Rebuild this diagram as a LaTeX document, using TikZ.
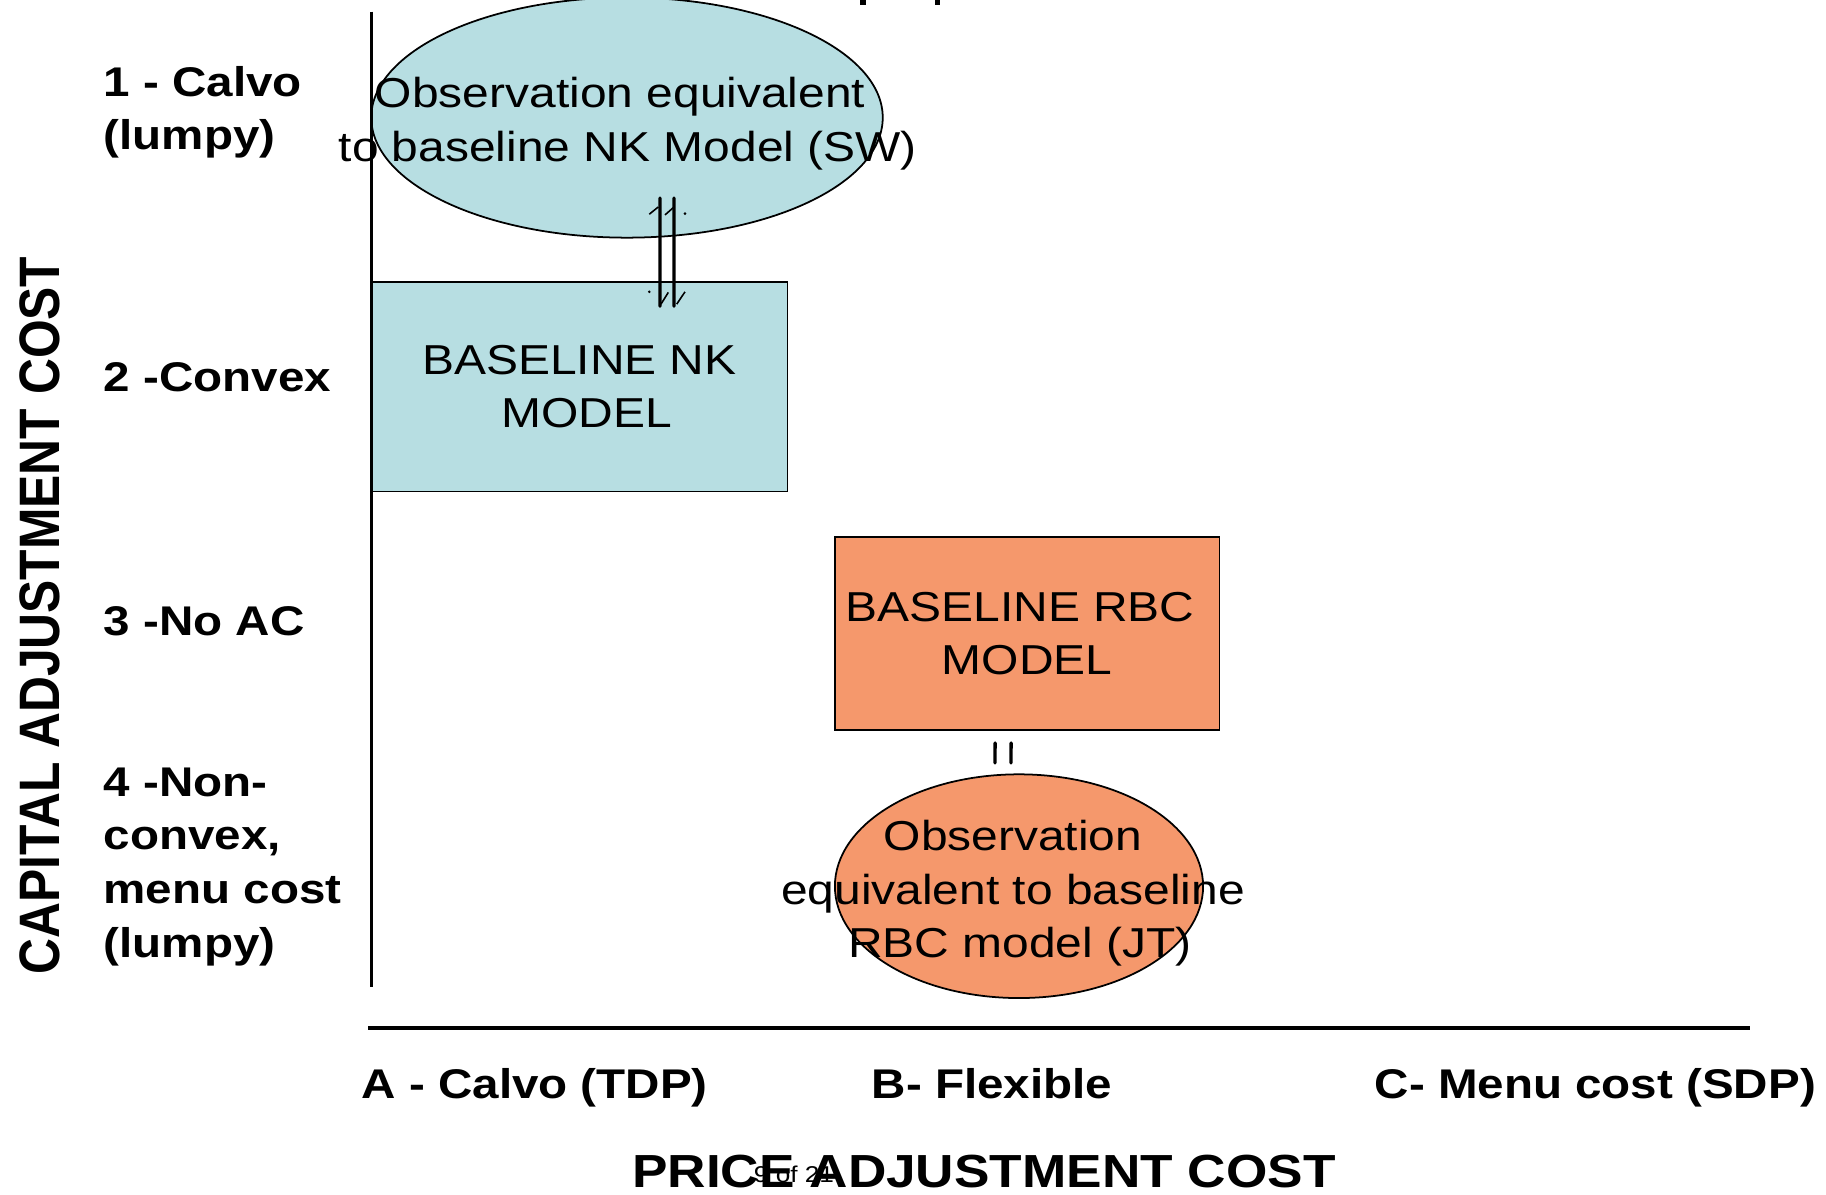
\documentclass[tikz,border=0pt]{standalone}
\usepackage{fontspec}
\setmainfont{Liberation Sans}[FakeStretch=1.146]
\newfontfamily\uprightsans{Liberation Sans}
\usetikzlibrary{calc,shapes.geometric}

\definecolor{nkblue}{HTML}{B7DEE2}
\definecolor{rbcorange}{HTML}{F5986C}

\newcommand{\fsz}[2]{\fontsize{#1}{#2}\selectfont}

\begin{document}
\begin{tikzpicture}[x=0.01cm,y=-0.01cm,
  rowlabel/.style={font=\fsz{11.8pt}{15.25pt}\bfseries, align=left, inner sep=0pt},
  collabel/.style={font=\fsz{11.8pt}{15.25pt}\bfseries, inner sep=0pt, anchor=base west},
  bodytext/.style={font=\fsz{11.9pt}{15.25pt}, align=center, inner sep=0pt},
  modelbox/.style={draw=black, line width=0.45pt, inner sep=0pt, font=\fsz{11.9pt}{15.25pt}, align=center},
  obsellipse/.style={ellipse, draw=black, line width=0.5pt, inner sep=0pt},
  eqbar/.style={line width=0.95pt, line cap=round},
  eqtick/.style={line width=0.45pt},
]
\useasboundingbox (0,0) rectangle (1826,1195);

% descenders of the clipped heading line
\fill (860,0) rectangle (865.5,5.5);
\fill (935,0) rectangle (940,5.5);

% axes
\coordinate (vtop) at (371.5,11.6);
\coordinate (vbot) at (371.5,987.5);
\coordinate (hleft) at (368,1028);
\coordinate (hright) at (1750,1028);

% NK column
\node[obsellipse, fill=nkblue, minimum width=5.112cm, minimum height=2.40cm] (nkobs) at (627,117.6) {};
\node[bodytext] (nkobstext) at (624,123.7) {Observation equivalent\kern2.2pt\\\kern2.2pt to baseline NK Model (SW)};
\node[modelbox, fill=nkblue, minimum width=4.157cm, minimum height=2.096cm] (nkbox) at (579.4,386.6) {BASELINE NK\\\kern4pt MODEL};

% RBC column
\node[modelbox, fill=rbcorange, minimum width=3.842cm, minimum height=1.933cm] (rbcbox) at (1027.1,633.5) {BASELINE RBC\kern4pt\\MODEL};
\node[obsellipse, fill=rbcorange, minimum width=3.68cm, minimum height=2.236cm] (rbcobs) at (1019,886.2) {};
\node[bodytext] (rbcobstext) at (1013,893.5) {Observation\\equivalent to baseline\\\kern4pt RBC model (JT)};

\draw[line width=0.7pt] (vtop) -- (vbot);
\draw[line width=1pt] (hleft) -- (hright);

% equivalence sign between the NK ellipse and the NK box
\coordinate (b1t) at ($(nkobs.south)+(33,-40.6)$);
\coordinate (b2t) at ($(nkobs.south)+(47,-40.6)$);
\coordinate (b1b) at ($(nkbox.north)+(80.6,25.2)$);
\coordinate (b2b) at ($(nkbox.north)+(94.6,25.2)$);
\draw[eqbar] (b1t) -- (b1b);
\draw[eqbar] (b2t) -- (b2b);
\draw[eqtick] ($(b1t)+(-10.7,16.3)$) -- ($(b1t)+(-1.7,9)$);
\draw[eqtick] ($(b2t)+(-9,17)$) -- ($(b2t)+(-0.7,9.7)$);
\fill ($(b2t)+(11,15.7)$) circle[radius=0.4pt];
\draw[eqtick] ($(b1b)+(1,-2)$) -- ($(b1b)+(8.3,-13.7)$);
\draw[eqtick] ($(b2b)+(2.7,-2)$) -- ($(b2b)+(11,-14.3)$);
\fill ($(b1b)+(-10.7,-14.3)$) circle[radius=0.4pt];

% equivalence sign between the RBC box and the RBC ellipse
\draw[eqbar] ($(rbcbox.south)+(-32,12)$) -- ($(rbcobs.north)+(-24,-10.4)$);
\draw[eqbar] ($(rbcbox.south)+(-16,12)$) -- ($(rbcobs.north)+(-8,-10.4)$);

% row labels
\node[rowlabel, anchor=north west] (row1) at (103,65.5) {1 - Calvo\\(lumpy)};
\node[rowlabel, anchor=base west] (row2) at (103,392) {2 -Convex};
\node[rowlabel, anchor=base west] (row3) at (103,636) {3 -No AC};
\node[rowlabel, anchor=north west] (row4) at (103,767) {4 -Non-\\convex,\\menu cost\\(lumpy)};

% column labels
\node[collabel] (colA) at (361,1099) {A - Calvo (TDP)};
\node[collabel] (colB) at (871,1099) {B- Flexible};
\node[collabel] (colC) at (1374,1099) {C- Menu cost (SDP)};

% axis titles
\node[font=\fsz{13.2pt}{15pt}\bfseries, inner sep=0pt, anchor=base] (xlab) at (984,1188) {PRICE ADJUSTMENT COST};
\node[font=\fsz{6.5pt}{8pt}, inner sep=0pt, anchor=base] (pageno) at (794,1183) {9 of 21};
\begin{scope}[shift={(40,615.5)}]
  \node[font=\uprightsans\fsz{14.15pt}{16pt}\bfseries, inner sep=0pt, xscale=1.146, rotate=90] (ylab) at (0,0) {CAPITAL ADJUSTMENT COST};
\end{scope}
\end{tikzpicture}
\end{document}
